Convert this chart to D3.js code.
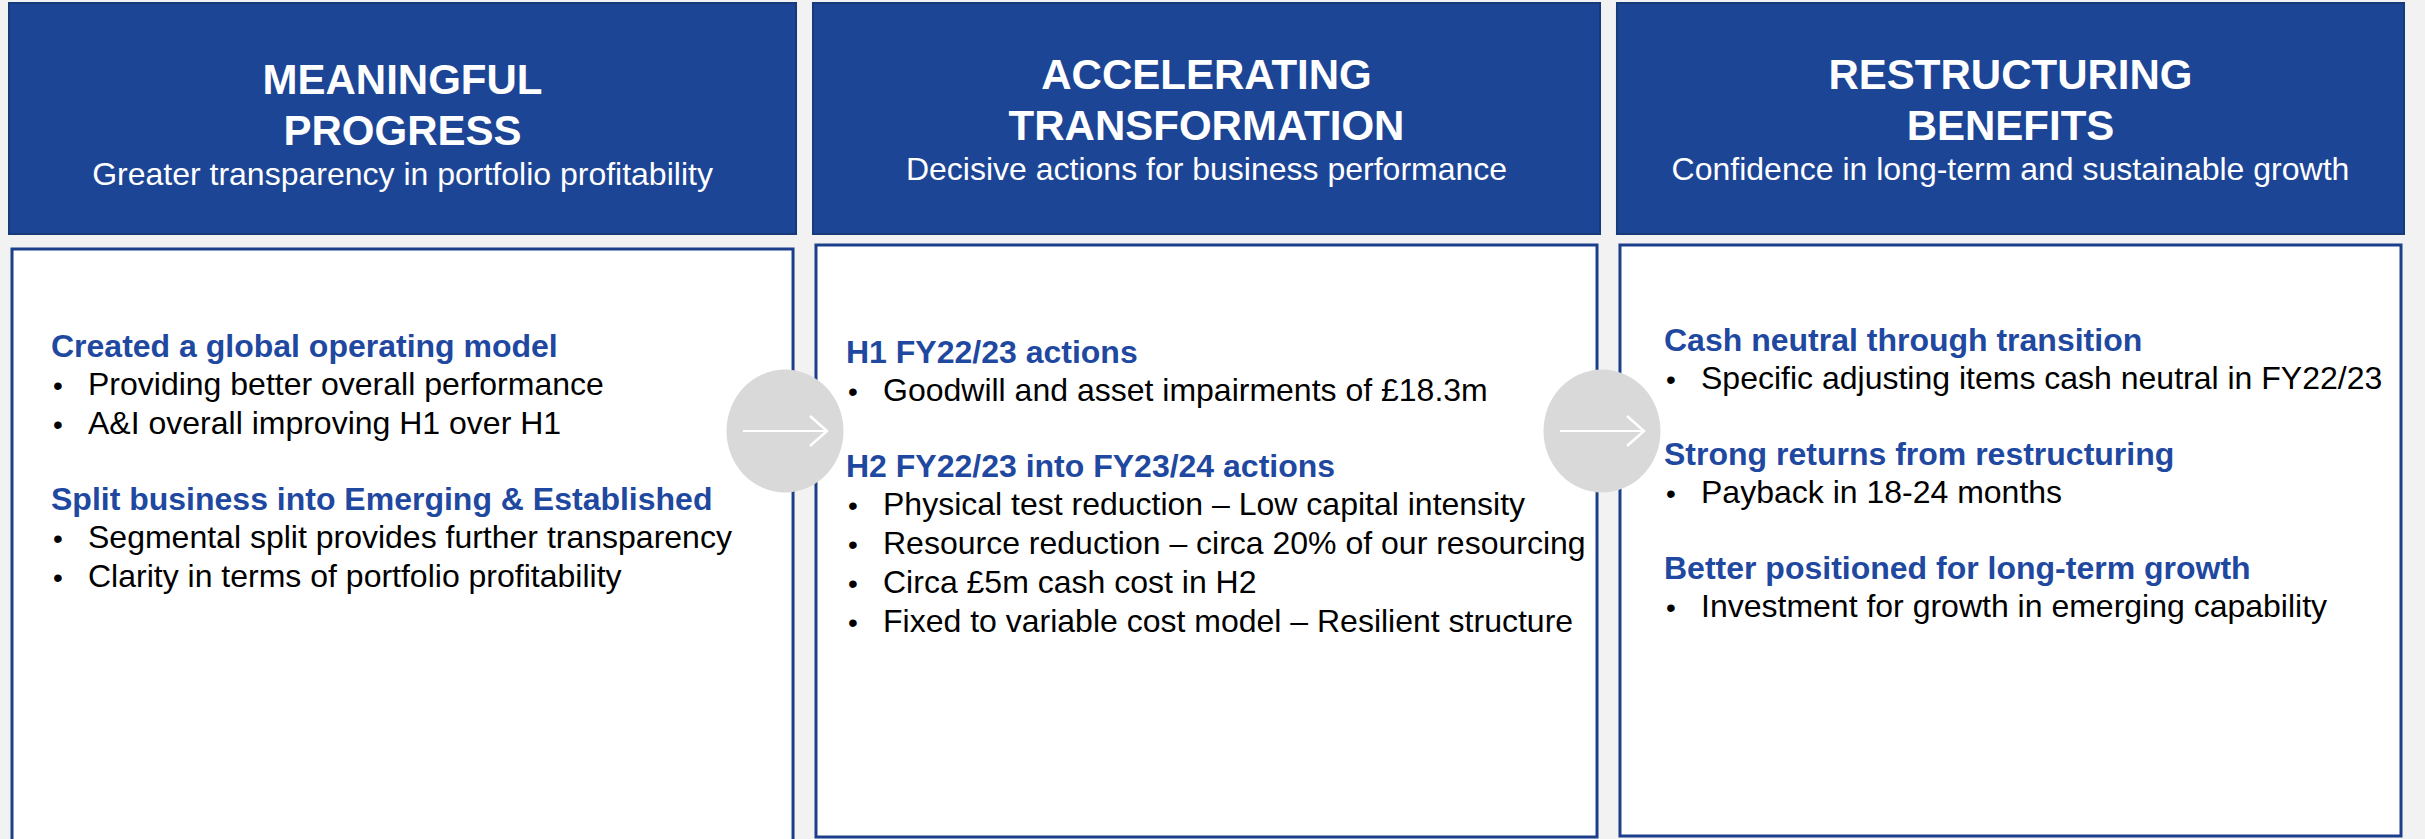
<!DOCTYPE html>
<html>
<head>
<meta charset="utf-8">
<script src="https://cdnjs.cloudflare.com/ajax/libs/d3/7.8.5/d3.min.js"></script>
<style>
  body { margin: 0; background: #f2f2f2; }
  svg { display: block; }
  text { font-family: "Liberation Sans", Arial, sans-serif; }
</style>
</head>
<body>
<svg id="chart"></svg>
<script>
// panel content
var titles = [["MEANINGFUL", "PROGRESS"], ["ACCELERATING", "TRANSFORMATION"], ["RESTRUCTURING", "BENEFITS"]];
var subtitles = ["Greater transparency in portfolio profitability",
                 "Decisive actions for business performance",
                 "Confidence in long-term and sustainable growth"];

var headings = [
  ["Created a global operating model", "Split business into Emerging & Established"],
  ["H1 FY22/23 actions", "H2 FY22/23 into FY23/24 actions"],
  ["Cash neutral through transition", "Strong returns from restructuring", "Better positioned for long-term growth"]
];
var bullets = [
  [["Providing better overall performance", "A&I overall improving H1 over H1"],
   ["Segmental split provides further transparency", "Clarity in terms of portfolio profitability"]],
  [["Goodwill and asset impairments of £18.3m"],
   ["Physical test reduction – Low capital intensity", "Resource reduction – circa 20% of our resourcing",
    "Circa £5m cash cost in H2", "Fixed to variable cost model – Resilient structure"]],
  [["Specific adjusting items cash neutral in FY22/23"],
   ["Payback in 18-24 months"],
   ["Investment for growth in emerging capability"]]
];

var width = 2425;
var height = 839;

// layout bits
var titleTop = [94, 89, 89];
var bodyTop = [357, 363, 351];
var textLeft = [51, 846, 1664];
var boxTop = [249, 245, 245];
var boxBottom = [845, 837, 836];
var arrowX = [785, 1602];

var svg = d3.select("#chart")
    .attr("width", width)
    .attr("height", height);

svg.append("rect")
    .attr("width", width)
    .attr("height", height)
    .attr("fill", "#f2f2f2");

var x = d3.scaleBand()
    .domain([0, 1, 2])
    .range([9, 2404])
    .paddingInner(0.0211);

var panels = svg.selectAll(".panel")
    .data([0, 1, 2])
    .enter()
    .append("g")
    .attr("class", "panel");

// blue header boxes
panels.append("rect")
    .attr("x", function(d) { return x(d); })
    .attr("y", 3)
    .attr("width", x.bandwidth())
    .attr("height", 231)
    .attr("fill", "#1d4596")
    .attr("stroke", "#163a7a")
    .attr("stroke-width", 2);

panels.each(function(d) {
    var g = d3.select(this);
    var cx = x(d) + x.bandwidth() / 2;

    titles[d].forEach(function(t, i) {
        g.append("text")
            .attr("x", cx)
            .attr("y", titleTop[d] + i * 51)
            .attr("text-anchor", "middle")
            .attr("fill", "white")
            .style("font-size", "42px")
            .style("font-weight", "bold")
            .text(t);
    });
    g.append("text")
        .attr("x", cx)
        .attr("y", titleTop[d] + 91)
        .attr("text-anchor", "middle")
        .attr("fill", "white")
        .style("font-size", "32px")
        .text(subtitles[d]);

    // white content box
    g.append("rect")
        .attr("x", x(d) + 3)
        .attr("y", boxTop[d])
        .attr("width", x.bandwidth() - 6)
        .attr("height", boxBottom[d] - boxTop[d])
        .attr("fill", "white")
        .attr("stroke", "#1b3f8a")
        .attr("stroke-width", 3);

    var y = bodyTop[d];
    headings[d].forEach(function(h, k) {
        g.append("text")
            .attr("x", textLeft[d])
            .attr("y", y)
            .attr("fill", "#1f48a0")
            .style("font-size", "32px")
            .style("font-weight", "bold")
            .text(h);
        y += 38;
        bullets[d][k].forEach(function(b) {
            g.append("text")
                .attr("x", textLeft[d] + 2)
                .attr("y", y)
                .attr("fill", "black")
                .style("font-size", "28px")
                .text("•");
            g.append("text")
                .attr("x", textLeft[d] + 37)
                .attr("y", y)
                .attr("fill", "black")
                .style("font-size", "32px")
                .text(b);
            y += 39;
        });
        y += 37;
    });
});

// grey arrow circles between panels
var arrows = svg.selectAll(".arrow")
    .data(arrowX)
    .enter()
    .append("g")
    .attr("class", "arrow")
    .attr("transform", function(d) { return "translate(" + d + ",431)"; });

arrows.append("ellipse")
    .attr("rx", 58.5)
    .attr("ry", 61.5)
    .attr("fill", "#d9d9d9");

arrows.append("line")
    .attr("x1", -42).attr("x2", 42)
    .attr("y1", 0).attr("y2", 0)
    .attr("stroke", "white")
    .attr("stroke-width", 2);

arrows.append("path")
    .attr("d", "M25,-15L42,0L25,15")
    .attr("fill", "none")
    .attr("stroke", "white")
    .attr("stroke-width", 2.5);
</script>
</body>
</html>
